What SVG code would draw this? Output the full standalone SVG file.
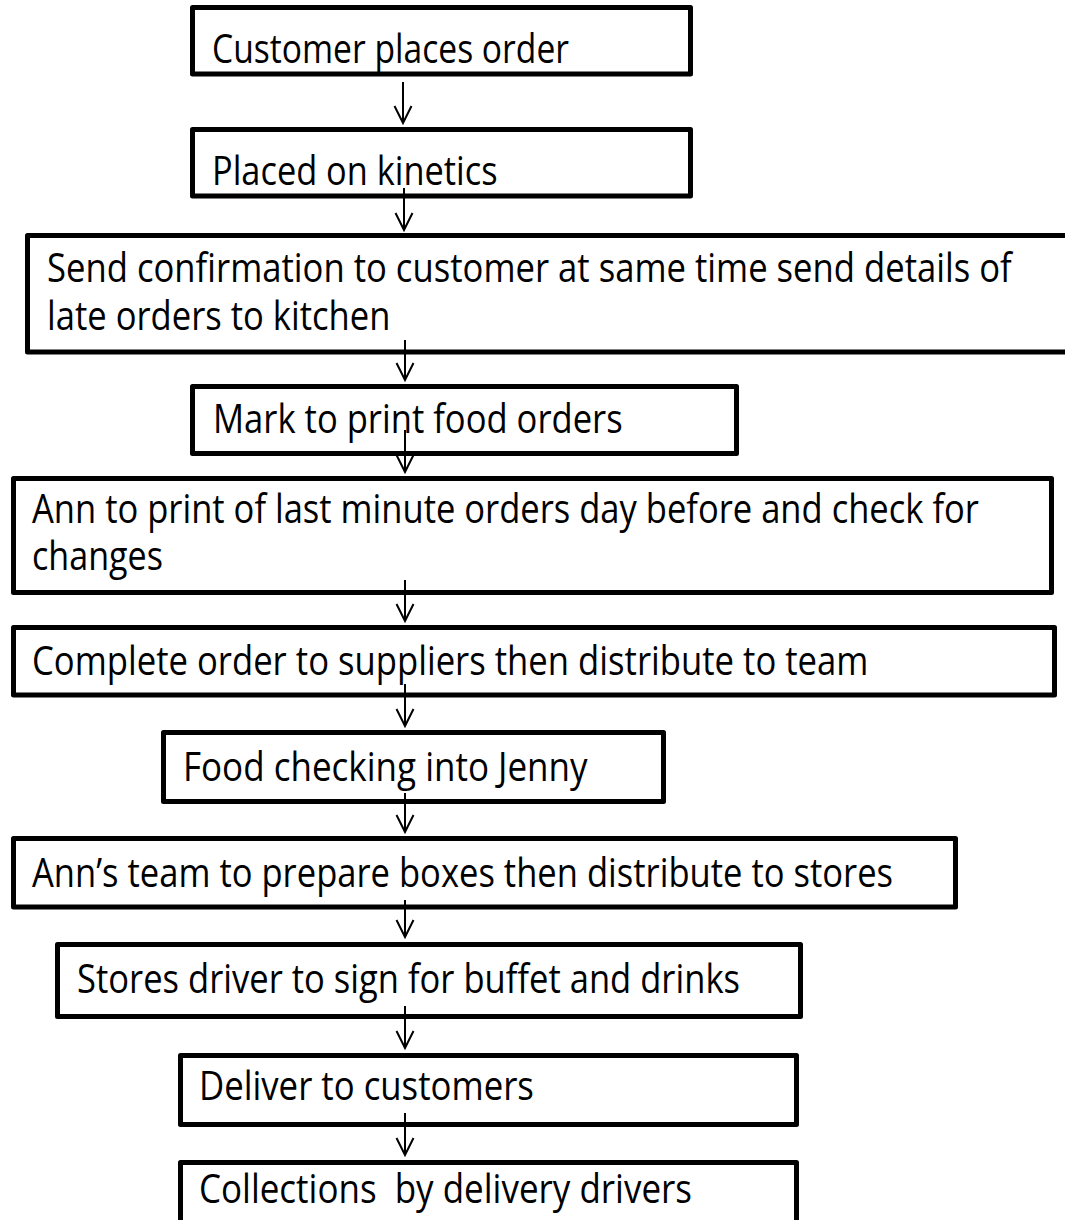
<svg xmlns="http://www.w3.org/2000/svg" width="1065" height="1220" viewBox="0 0 1065 1220">
  <style>
    .box { fill: #fff; stroke: #000; stroke-width: 5; stroke-linejoin: round; }
    .lbl { font-family: "Open Sans", "Noto Sans", "Liberation Sans", sans-serif; font-size: 40px; fill: #000; white-space: pre; }
    .conn { fill: none; stroke: #000; stroke-width: 2; }
  </style>
  <defs>
    <marker id="vhead" markerUnits="userSpaceOnUse" markerWidth="24" markerHeight="24" viewBox="-20 -12 24 24" refX="0" refY="0" orient="auto" overflow="visible">
      <path d="M-17,-8.5 L0,0 L-17,8.5" fill="none" stroke="#000" stroke-width="2"/>
    </marker>
  </defs>

  <rect width="1065" height="1220" fill="#fff"/>

  <!-- process steps; labels use a narrowed face (x scaled by 0.85) -->
  <g id="step-customer-places-order">
    <rect class="box" x="192.5" y="7.5" width="498" height="66.5"/>
    <text class="lbl" transform="matrix(0.85 0 0 1 212 63)" textLength="420" lengthAdjust="spacingAndGlyphs">Customer places order</text>
  </g>

  <g id="step-placed-on-kinetics">
    <rect class="box" x="192.5" y="129.5" width="498" height="66.5"/>
    <text class="lbl" transform="matrix(0.85 0 0 1 212 185)" textLength="336" lengthAdjust="spacingAndGlyphs">Placed on kinetics</text>
  </g>

  <g id="step-send-confirmation">
    <rect class="box" x="27.5" y="235.5" width="1060" height="116.5"/>
    <text class="lbl" transform="matrix(0.85 0 0 1 47 282)" textLength="1135" lengthAdjust="spacingAndGlyphs">Send confirmation to customer at same time send details of</text>
    <text class="lbl" transform="matrix(0.85 0 0 1 47 330)" textLength="404" lengthAdjust="spacingAndGlyphs">late orders to kitchen</text>
  </g>

  <g id="step-mark-to-print">
    <rect class="box" x="192.5" y="386.5" width="544" height="67"/>
    <text class="lbl" transform="matrix(0.85 0 0 1 213 433)" textLength="482" lengthAdjust="spacingAndGlyphs">Mark to print food orders</text>
  </g>

  <g id="step-ann-print-last-minute">
    <rect class="box" x="13.5" y="478.5" width="1038" height="114"/>
    <text class="lbl" transform="matrix(0.85 0 0 1 32 523)" textLength="1114" lengthAdjust="spacingAndGlyphs">Ann to print of last minute orders day before and check for</text>
    <text class="lbl" transform="matrix(0.85 0 0 1 32 570)" textLength="154" lengthAdjust="spacingAndGlyphs">changes</text>
  </g>

  <g id="step-complete-order">
    <rect class="box" x="13.5" y="627.5" width="1041" height="67.5"/>
    <text class="lbl" transform="matrix(0.85 0 0 1 32 675)" textLength="984" lengthAdjust="spacingAndGlyphs">Complete order to suppliers then distribute to team</text>
  </g>

  <g id="step-food-checking">
    <rect class="box" x="163.5" y="732.5" width="500" height="69"/>
    <text class="lbl" transform="matrix(0.85 0 0 1 183 781)" textLength="476" lengthAdjust="spacingAndGlyphs">Food checking into Jenny</text>
  </g>

  <g id="step-prepare-boxes">
    <rect class="box" x="13.5" y="838.5" width="942" height="68.5"/>
    <text class="lbl" transform="matrix(0.85 0 0 1 32 887)" textLength="1013" lengthAdjust="spacingAndGlyphs">Ann’s team to prepare boxes then distribute to stores</text>
  </g>

  <g id="step-stores-driver-sign">
    <rect class="box" x="57.5" y="944.5" width="743" height="72"/>
    <text class="lbl" transform="matrix(0.85 0 0 1 77 993)" textLength="780" lengthAdjust="spacingAndGlyphs">Stores driver to sign for buffet and drinks</text>
  </g>

  <g id="step-deliver">
    <rect class="box" x="180.5" y="1055.5" width="616" height="69"/>
    <text class="lbl" transform="matrix(0.85 0 0 1 199 1100)" textLength="394" lengthAdjust="spacingAndGlyphs">Deliver to customers</text>
  </g>

  <g id="step-collections">
    <rect class="box" x="180.5" y="1162.5" width="616" height="80"/>
    <text class="lbl" transform="matrix(0.85 0 0 1 199 1203)" textLength="580" lengthAdjust="spacingAndGlyphs">Collections  by delivery drivers</text>
  </g>

  <!-- flow arrows -->
  <g id="connectors">
    <line class="conn" x1="403" y1="82" x2="403" y2="123" marker-end="url(#vhead)"/>
    <line class="conn" x1="404" y1="188" x2="404" y2="230" marker-end="url(#vhead)"/>
    <line class="conn" x1="405" y1="340" x2="405" y2="380" marker-end="url(#vhead)"/>
    <line class="conn" x1="405" y1="430" x2="405" y2="472" marker-end="url(#vhead)"/>
    <line class="conn" x1="405" y1="580" x2="405" y2="621" marker-end="url(#vhead)"/>
    <line class="conn" x1="405" y1="684" x2="405" y2="726" marker-end="url(#vhead)"/>
    <line class="conn" x1="405" y1="793" x2="405" y2="832" marker-end="url(#vhead)"/>
    <line class="conn" x1="405" y1="900" x2="405" y2="937" marker-end="url(#vhead)"/>
    <line class="conn" x1="405" y1="1006" x2="405" y2="1048" marker-end="url(#vhead)"/>
    <line class="conn" x1="405" y1="1113" x2="405" y2="1155" marker-end="url(#vhead)"/>
  </g>
</svg>
